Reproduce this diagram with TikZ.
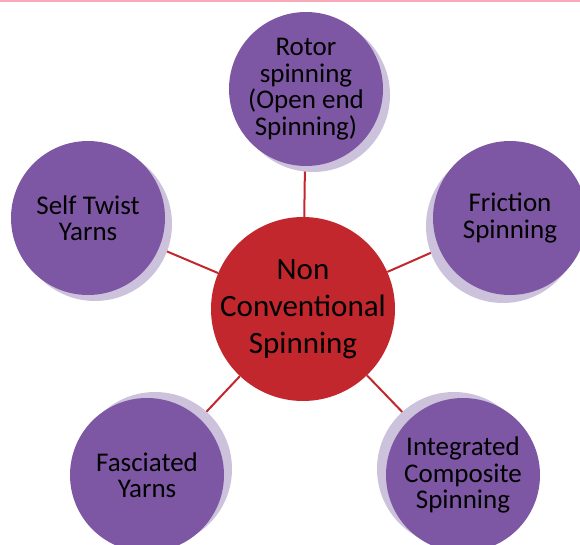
\documentclass[tikz,border=0pt]{standalone}
\usepackage{fontspec}
\setmainfont{Carlito}
\usetikzlibrary{shadows, backgrounds}
\definecolor{petal}{HTML}{7E57A4}
\definecolor{softpetal}{HTML}{CDC2DC}
\definecolor{hubred}{HTML}{C1272D}
\definecolor{topline}{HTML}{F9A9B8}

\begin{document}
\begin{tikzpicture}[
		x=1pt, y=-1pt,
		petal/.style={
			circle, fill=petal, text=black, align=center, inner sep=-6pt,
			minimum size=154pt, font=\fontsize{27}{26.5}\selectfont
		},
		hub/.style={
			circle, fill=hubred, text=black, align=center, inner sep=-12pt,
			minimum size=184pt, font=\fontsize{31}{37}\selectfont
		},
		link/.style={draw=hubred, line width=2pt}
		]
		
		% Frame
		\useasboundingbox (0,0) rectangle (580,545);
		\fill[topline] (0,0) rectangle (580,2.5);
		
		% ==========================================
		% Outer circles (with offset shadows)
		% ==========================================
		\node[petal, drop shadow={opacity=1, fill=softpetal, shadow xshift=7pt, shadow yshift=-6pt}]
		(rotor) at (306,89) {Rotor\\spinning\\(Open end\\Spinning)};
		\node[petal, drop shadow={opacity=1, fill=softpetal, shadow xshift=-7pt, shadow yshift=-8pt}]
		(friction) at (510,218) {Friction\\Spinning};
		\node[petal, drop shadow={opacity=1, fill=softpetal, shadow xshift=-9pt, shadow yshift=6pt}]
		(composite) at (463,475) {Integrated\\Composite\\Spinning};
		\node[petal, drop shadow={opacity=1, fill=softpetal, shadow xshift=8pt, shadow yshift=6pt}]
		(fasciated) at (147,475) {Fasciated\\Yarns};
		\node[petal, drop shadow={opacity=1, fill=softpetal, shadow xshift=7pt, shadow yshift=-6pt}]
		(selftwist) at (88,218) {Self Twist\\Yarns};
		
		% ==========================================
		% Centre
		% ==========================================
		\node[hub] (hub) at (303,309) {Non\\Conventional\\Spinning};
		
		% Spokes behind everything
		\begin{scope}[on background layer]
			\draw[link] (hub) -- (rotor);
			\draw[link] (hub) -- (friction);
			\draw[link] (hub) -- (composite);
			\draw[link] (hub) -- (fasciated);
			\draw[link] (hub) -- (selftwist);
		\end{scope}
		
	\end{tikzpicture}
\end{document}
